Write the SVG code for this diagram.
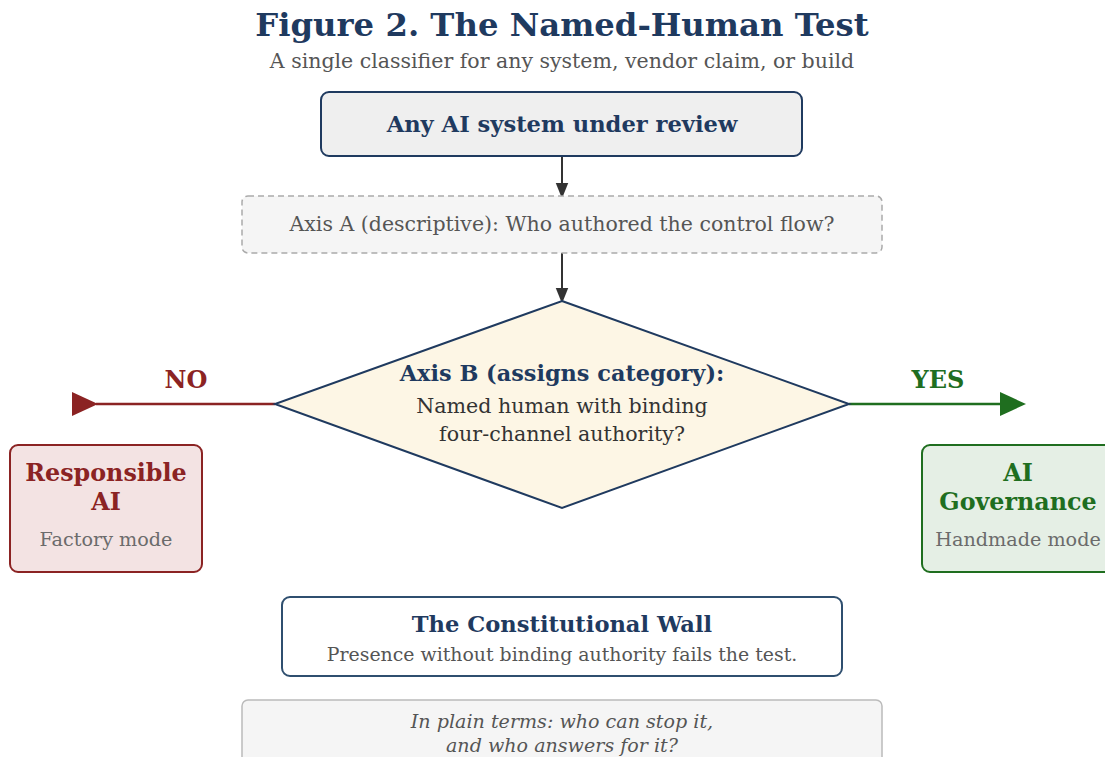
<svg xmlns="http://www.w3.org/2000/svg" width="1105" height="757" viewBox="0 0 1105 757">
  <style>
    text { font-family: "DejaVu Serif", "Liberation Serif", serif; text-anchor: middle; }
    .title { font-size: 32.3px; font-weight: bold; fill: #1f3a5f; }
    .subtitle { font-size: 20.5px; fill: #555; }
    .head { font-weight: bold; fill: #1f3a5f; }
    .note { fill: #555; }
    .body { fill: #333; }
    .mode { font-size: 19.2px; fill: #6b6b6b; }
    .flow { stroke: #333; stroke-width: 2; fill: none; }
  </style>
  <defs>
    <marker id="arrowDark" viewBox="0 0 10 10" refX="9" refY="5" markerWidth="8" markerHeight="8" orient="auto">
      <path d="M0,1 L10,5 L0,9 z" fill="#333"/>
    </marker>
  </defs>

  <!-- heading -->
  <text class="title" x="562" y="36">Figure 2. The Named-Human Test</text>
  <text class="subtitle" x="562" y="68">A single classifier for any system, vendor claim, or build</text>

  <!-- connectors -->
  <g id="connectors">
    <line class="flow" x1="562" y1="156" x2="562" y2="197" marker-end="url(#arrowDark)"/>
    <line class="flow" x1="562" y1="253" x2="562" y2="302" marker-end="url(#arrowDark)"/>
    <!-- NO branch -->
    <line x1="275" y1="404" x2="96" y2="404" stroke="#8b2323" stroke-width="2.5"/>
    <path d="M72,392 L98,404 L72,416 z" fill="#8b2323"/>
    <text x="186" y="388" font-size="24" font-weight="bold" fill="#8b2323">NO</text>
    <!-- YES branch -->
    <line x1="849" y1="404" x2="1002" y2="404" stroke="#1f6e1f" stroke-width="2.5"/>
    <path d="M1000,392 L1026,404 L1000,416 z" fill="#1f6e1f"/>
    <text x="938" y="388" font-size="24" font-weight="bold" fill="#1f6e1f">YES</text>
  </g>

  <g id="node-start">
    <rect x="321" y="92" width="481" height="64" rx="8" fill="#efefef" stroke="#1f3a5f" stroke-width="2"/>
    <text class="head" x="562" y="132" font-size="22.6">Any AI system under review</text>
  </g>

  <g id="node-axis-a">
    <rect x="242" y="196" width="640" height="57" rx="6" fill="#f5f5f5" stroke="#aaa" stroke-width="1.5" stroke-dasharray="6,4"/>
    <text class="note" x="562" y="231" font-size="20.5">Axis A (descriptive): Who authored the control flow?</text>
  </g>

  <g id="node-axis-b">
    <polygon points="562,301 849,404 562,508 275,404" fill="#fdf6e5" stroke="#1f3a5f" stroke-width="2"/>
    <text class="head" x="562" y="381" font-size="22.4">Axis B (assigns category):</text>
    <text class="body" x="562" y="413" font-size="20.6">Named human with binding</text>
    <text class="body" x="562" y="441" font-size="20.6">four-channel authority?</text>
  </g>

  <g id="node-responsible">
    <rect x="10" y="445" width="192" height="127" rx="8" fill="#f3e3e3" stroke="#8b2323" stroke-width="2"/>
    <text x="106" y="481" font-size="23.8" font-weight="bold" fill="#8b2323">Responsible</text>
    <text x="106" y="510" font-size="23.8" font-weight="bold" fill="#8b2323">AI</text>
    <text class="mode" x="106" y="546">Factory mode</text>
  </g>

  <g id="node-governance">
    <rect x="922" y="445" width="192" height="127" rx="8" fill="#e5efe5" stroke="#1f6e1f" stroke-width="2"/>
    <text x="1018" y="481" font-size="23.8" font-weight="bold" fill="#1f6e1f">AI</text>
    <text x="1018" y="510" font-size="23.8" font-weight="bold" fill="#1f6e1f">Governance</text>
    <text class="mode" x="1018" y="546">Handmade mode</text>
  </g>

  <g id="node-wall">
    <rect x="282" y="597" width="560" height="79" rx="8" fill="#ffffff" stroke="#2f4f6f" stroke-width="2"/>
    <text class="head" x="562" y="632" font-size="22.6">The Constitutional Wall</text>
    <text class="note" x="562" y="661" font-size="18.9">Presence without binding authority fails the test.</text>
  </g>

  <g id="node-plain-terms">
    <rect x="242" y="700" width="640" height="70" rx="6" fill="#f5f5f5" stroke="#bbb" stroke-width="1.5"/>
    <text class="note" x="562" y="728" font-size="19.1" font-style="italic">In plain terms: who can stop it,</text>
    <text class="note" x="562" y="752" font-size="19.1" font-style="italic">and who answers for it?</text>
  </g>
</svg>
